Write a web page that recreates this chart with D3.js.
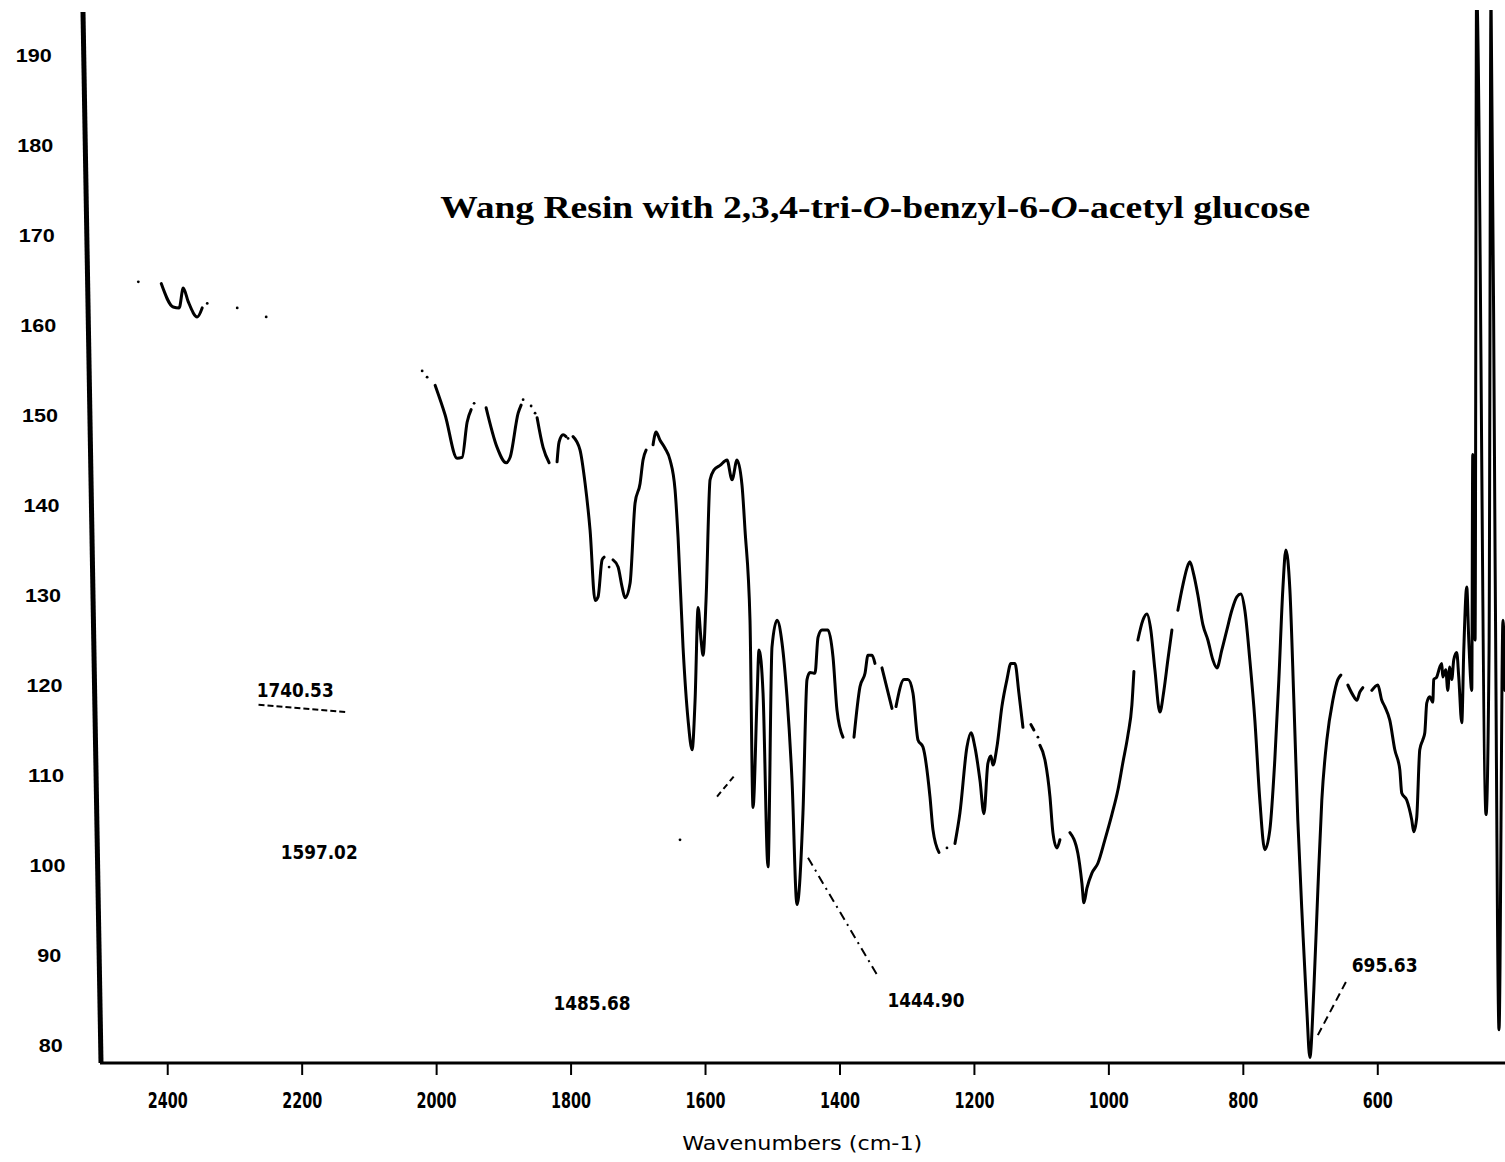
<!DOCTYPE html>
<html><head><meta charset="utf-8">
<script src="https://cdn.jsdelivr.net/npm/d3@7"></script>
<style>body{margin:0;background:#fff}</style>
</head><body>
<script>
// ---- data ----
const xTicks = [2400,2200,2000,1800,1600,1400,1200,1000,800,600];
const yTicks = [190,180,170,160,150,140,130,120,110,100,90,80];
const titleParts = [["Wang Resin with 2,3,4-tri-",false],["O",true],["-benzyl-6-",false],["O",true],["-acetyl glucose",false]];
const xTitle = "Wavenumbers (cm-1)";

// spectrum: segments of [wavenumber, value] (gaps between segments as in the trace)
const segA = [[2408.9,164.6],[2391.1,162.0],[2382.2,161.9],[2376.2,164.1],[2368.8,162.6],[2355.4,160.9],[2348.0,161.9]];
const segB = [[2001.5,153.3],[1986.6,150.0],[1968.8,145.2],[1961.3,145.3],[1953.9,149.2],[1947.9,150.6]];
const segC = [[1925.6,150.8],[1909.3,146.4],[1895.9,144.7],[1889.9,145.3],[1878.0,150.2],[1873.6,151.1]];
const segD = [[1849.8,149.7],[1840.9,146.4],[1831.9,144.7]];
const segE = [[1820.1,144.8],[1817.1,147.0],[1811.1,147.8],[1806.7,147.6]];
const segF = [[1796.3,147.6],[1785.9,146.1],[1778.4,142.4],[1771.0,137.2],[1763.6,129.4],[1759.1,129.8],[1753.2,133.9],[1750.2,134.2]];
const segG = [[1736.8,133.9],[1729.3,133.1],[1723.4,130.9],[1718.9,129.7],[1711.5,131.3],[1704.1,140.2],[1696.6,142.4],[1692.2,145.0],[1687.7,146.1]];
const segH = [[1677.3,146.7],[1672.8,148.1],[1666.9,147.2],[1659.5,146.3],[1652.0,145.0],[1644.6,141.7],[1640.1,136.4],[1632.7,124.2],[1625.2,116.1],[1619.2,112.8],[1614.8,118.3],[1610.3,128.6],[1605.9,125.0],[1602.9,123.3],[1598.5,129.4],[1592.5,142.8],[1586.6,143.9],[1577.7,144.4],[1567.3,145.0],[1559.8,142.8],[1552.4,145.0],[1545.0,142.2],[1540.5,137.2],[1533.1,127.2],[1528.6,106.4],[1522.7,118.3],[1519.7,123.9],[1513.7,119.1],[1506.3,99.8],[1500.4,124.2],[1492.9,127.2],[1485.5,124.7],[1478.1,118.7],[1470.6,109.4],[1463.2,95.6],[1454.3,105.8],[1448.3,120.6],[1443.8,121.4],[1436.4,121.3],[1431.9,125.3],[1426.0,126.1],[1417.1,126.1],[1409.6,123.1],[1403.7,117.2],[1394.8,114.2]];
const segI = [[1378.4,114.2],[1369.5,119.8],[1362.0,121.3],[1357.6,123.3],[1351.6,123.3],[1347.2,122.4]];
const segJ = [[1336.8,121.9],[1321.9,117.4]];
const segK = [[1315.9,117.6],[1304.0,120.6],[1298.1,120.6],[1290.7,119.1],[1283.2,113.9],[1275.8,113.1],[1265.4,107.6],[1260.9,103.9],[1252.0,101.4]];
const segL = [[1228.2,102.4],[1220.8,105.8],[1210.4,113.1],[1204.4,114.7],[1198.5,113.1],[1191.0,109.4],[1185.1,105.7],[1179.2,111.3],[1174.7,112.1],[1171.7,111.1],[1165.8,113.1],[1158.4,117.6],[1150.9,120.6],[1145.0,122.4],[1139.0,122.4],[1133.1,119.1],[1127.1,115.3]];
const segM = [[1115.2,115.6],[1110.8,115.0]];
const segN = [[1101.8,113.3],[1094.4,111.7],[1086.9,107.6],[1082.5,103.6],[1076.6,101.9],[1072.1,102.8]];
const segO = [[1057.2,103.6],[1045.4,101.3],[1039.4,98.0],[1036.4,95.8],[1032.0,97.4],[1024.5,99.1],[1015.6,100.2],[1005.2,102.8],[994.8,105.6],[985.9,108.3],[978.4,111.4],[971.0,114.4],[965.0,117.8],[962.0,121.5]];
const segP = [[956.1,125.0],[948.7,127.2],[942.7,127.9],[936.8,126.1],[930.8,121.7],[923.4,117.0],[917.4,119.4],[911.5,122.8],[905.5,126.1]];
const segQ = [[896.6,128.3],[889.2,131.1],[881.7,133.3],[878.8,133.7],[872.8,132.2],[866.9,130.0],[859.4,126.7],[852.0,125.0],[844.6,122.8],[838.6,121.9],[831.2,123.9],[823.8,126.1],[816.3,128.3],[808.9,129.8],[802.9,130.1],[797.0,128.3],[789.6,122.8],[782.1,116.1],[774.7,107.2],[767.3,101.7],[759.8,103.9],[752.4,111.7],[746.4,120.6],[740.5,130.6],[736.0,135.0],[730.0,130.6],[724.1,118.3],[718.2,105.0],[710.8,92.8],[704.8,83.9],[700.3,78.6],[694.4,86.1],[688.4,97.2],[682.5,107.2],[675.0,113.9],[666.1,118.3],[658.7,120.6],[654.2,121.1]];
const segR = [[643.8,120.0],[636.4,118.9],[630.4,118.3],[626.0,119.2],[621.5,119.7]];
const segS = [[608.1,119.4],[599.2,120.0],[593.3,118.3],[588.8,117.6],[581.4,116.1],[573.9,112.8],[566.5,110.6],[563.6,108.0],[556.1,107.2],[548.7,105.0],[545.7,103.7],[541.3,105.3],[536.8,112.8],[532.3,113.9],[529.3,114.7],[526.4,118.0],[521.9,118.7],[517.4,118.1],[516.0,120.6],[511.5,120.9],[507.0,122.0],[504.1,122.4],[502.6,120.9],[498.1,121.7],[495.1,119.4],[492.2,122.0],[489.2,120.6],[486.2,122.8],[481.8,123.6],[478.8,120.9],[474.3,115.8],[471.3,123.9],[466.9,130.9],[463.9,125.0],[459.4,119.4],[458.0,145.6],[454.5,125.0],[452.3,197],[438.2,105.6],[433.7,123.9],[430.8,197],[424.8,134.7],[418.9,81.7],[413.0,127.2],[410.0,119.4]];
const segments = [segA,segB,segC,segD,segE,segF,segG,segH,segI,segJ,segK,segL,segM,segN,segO,segP,segQ,segR,segS];

// isolated printed dots along the trace
const dots = [[2443,164.8],[2340.5,162.4],[2295.9,161.9],[2252.8,160.9],[2020.8,154.9],[2013.4,154.2],[1943.5,151.3],[1870.6,151.7],[1858.7,151.0],[1852.8,150.2],[1803.7,147.4],[1742.7,133.1],[1240.1,101.9],[1104.8,114.2],[1637.2,102.8]];

// peak annotations: [text, wavenumber, value] (text centre / baseline)
const peakLabels = [["1740.53",2209.7,118.7],["1597.02",2174,100.7],["1485.68",1768,83.9],["1444.90",1271.4,84.2],["695.63",589,88.1]];
// leader lines: [wn1, v1, wn2, v2, dash]
const leaders = [[2264.2,117.8,2135.3,117.0,"6,3"],[1446.8,100.8,1344.2,87.8,"9,5,2,5"],[688.4,81.1,643.8,87.4,"8,5"],[1582.1,107.6,1555.4,110.0,"6,4"]];

// ---- drawing ----
const W = 1505, H = 1162;
const x = d3.scaleLinear().domain([2500,410]).range([100,1505]);
const y = d3.scaleLinear().domain([78,195]).range([1063,10]);

const svg = d3.select("body").append("svg").attr("width",W).attr("height",H)
  .style("font-family","'Liberation Sans Narrow','DejaVu Sans Condensed','Liberation Sans',sans-serif");

svg.append("defs").append("clipPath").attr("id","plot")
  .append("rect").attr("x",x.range()[0]).attr("y",y.range()[1]).attr("width",x.range()[1]-x.range()[0]).attr("height",y.range()[0]-y.range()[1]);

// slanted left axis (as printed)
const axTop = [x.range()[0]-17, y.range()[1]+2], axBot = [x.range()[0]+1, y.range()[0]];
const axisX = py => axTop[0] + (axBot[0]-axTop[0])*(py-axTop[1])/(axBot[1]-axTop[1]);
svg.append("line").attr("x1",axTop[0]).attr("y1",axTop[1]).attr("x2",axBot[0]).attr("y2",axBot[1])
  .attr("stroke","#000").attr("stroke-width",5);

// bottom axis
const xAxis = d3.axisBottom(x).tickValues(xTicks).tickSize(12).tickFormat(d3.format("d"));
const gx = svg.append("g").attr("transform",`translate(0,${y.range()[0]})`).call(xAxis);
gx.select(".domain").attr("stroke-width",3).attr("d",`M${x.range()[0]},0H${x.range()[1]}`);
gx.selectAll(".tick line").attr("stroke-width",2);
gx.selectAll(".tick text").attr("y",30).attr("font-size",21).attr("font-weight","bold")
  .attr("font-family","'Liberation Sans Narrow','DejaVu Sans Condensed','Liberation Sans',sans-serif")
  .attr("textLength",d=>String(d).length*10).attr("lengthAdjust","spacingAndGlyphs");

// y tick labels (no tick marks in the print)
svg.append("g").selectAll("text").data(yTicks).join("text")
  .attr("x",d=>axisX(y(d))-50).attr("y",d=>y(d)+7)
  .attr("text-anchor","middle").attr("font-size",18).attr("font-weight","bold")
  .attr("font-family","'Liberation Sans','Arial',sans-serif")
  .attr("textLength",d=>String(d).length*12).attr("lengthAdjust","spacingAndGlyphs")
  .text(d=>d);

// axis title
svg.append("text").attr("x",(x(1600)+x(1400))/2+30).attr("y",1150).attr("text-anchor","middle")
  .attr("font-size",20).attr("textLength",240).attr("lengthAdjust","spacingAndGlyphs").text(xTitle);

// title
const t = svg.append("text").attr("x",x(1994)).attr("y",y(171.9)).attr("font-size",31).attr("font-weight","bold")
  .attr("font-family","'Liberation Serif','DejaVu Serif',serif")
  .attr("textLength",870).attr("lengthAdjust","spacingAndGlyphs");
t.selectAll("tspan").data(titleParts).join("tspan").attr("font-style",d=>d[1]?"italic":"normal").text(d=>d[0]);

// spectrum
const line = d3.line().x(d=>x(d[0])).y(d=>y(d[1])).curve(d3.curveMonotoneX);
const gp = svg.append("g").attr("clip-path","url(#plot)");
gp.selectAll("path").data(segments).join("path").attr("d",line)
  .attr("fill","none").attr("stroke","#000").attr("stroke-width",3)
  .attr("stroke-linejoin","round").attr("stroke-linecap","round");
gp.selectAll("circle").data(dots).join("circle").attr("cx",d=>x(d[0])).attr("cy",d=>y(d[1])).attr("r",1.4).attr("fill","#000");

// leader lines
svg.append("g").selectAll("line").data(leaders).join("line")
  .attr("x1",d=>x(d[0])).attr("y1",d=>y(d[1])).attr("x2",d=>x(d[2])).attr("y2",d=>y(d[3]))
  .attr("stroke","#000").attr("stroke-width",2).attr("stroke-dasharray",d=>d[4]);

// peak labels
svg.append("g").selectAll("text").data(peakLabels).join("text")
  .attr("x",d=>x(d[1])).attr("y",d=>y(d[2])).attr("text-anchor","middle")
  .attr("font-size",20).attr("font-weight","bold")
  .attr("textLength",d=>d[0].length*11).attr("lengthAdjust","spacingAndGlyphs")
  .text(d=>d[0]);
</script>
</body></html>
